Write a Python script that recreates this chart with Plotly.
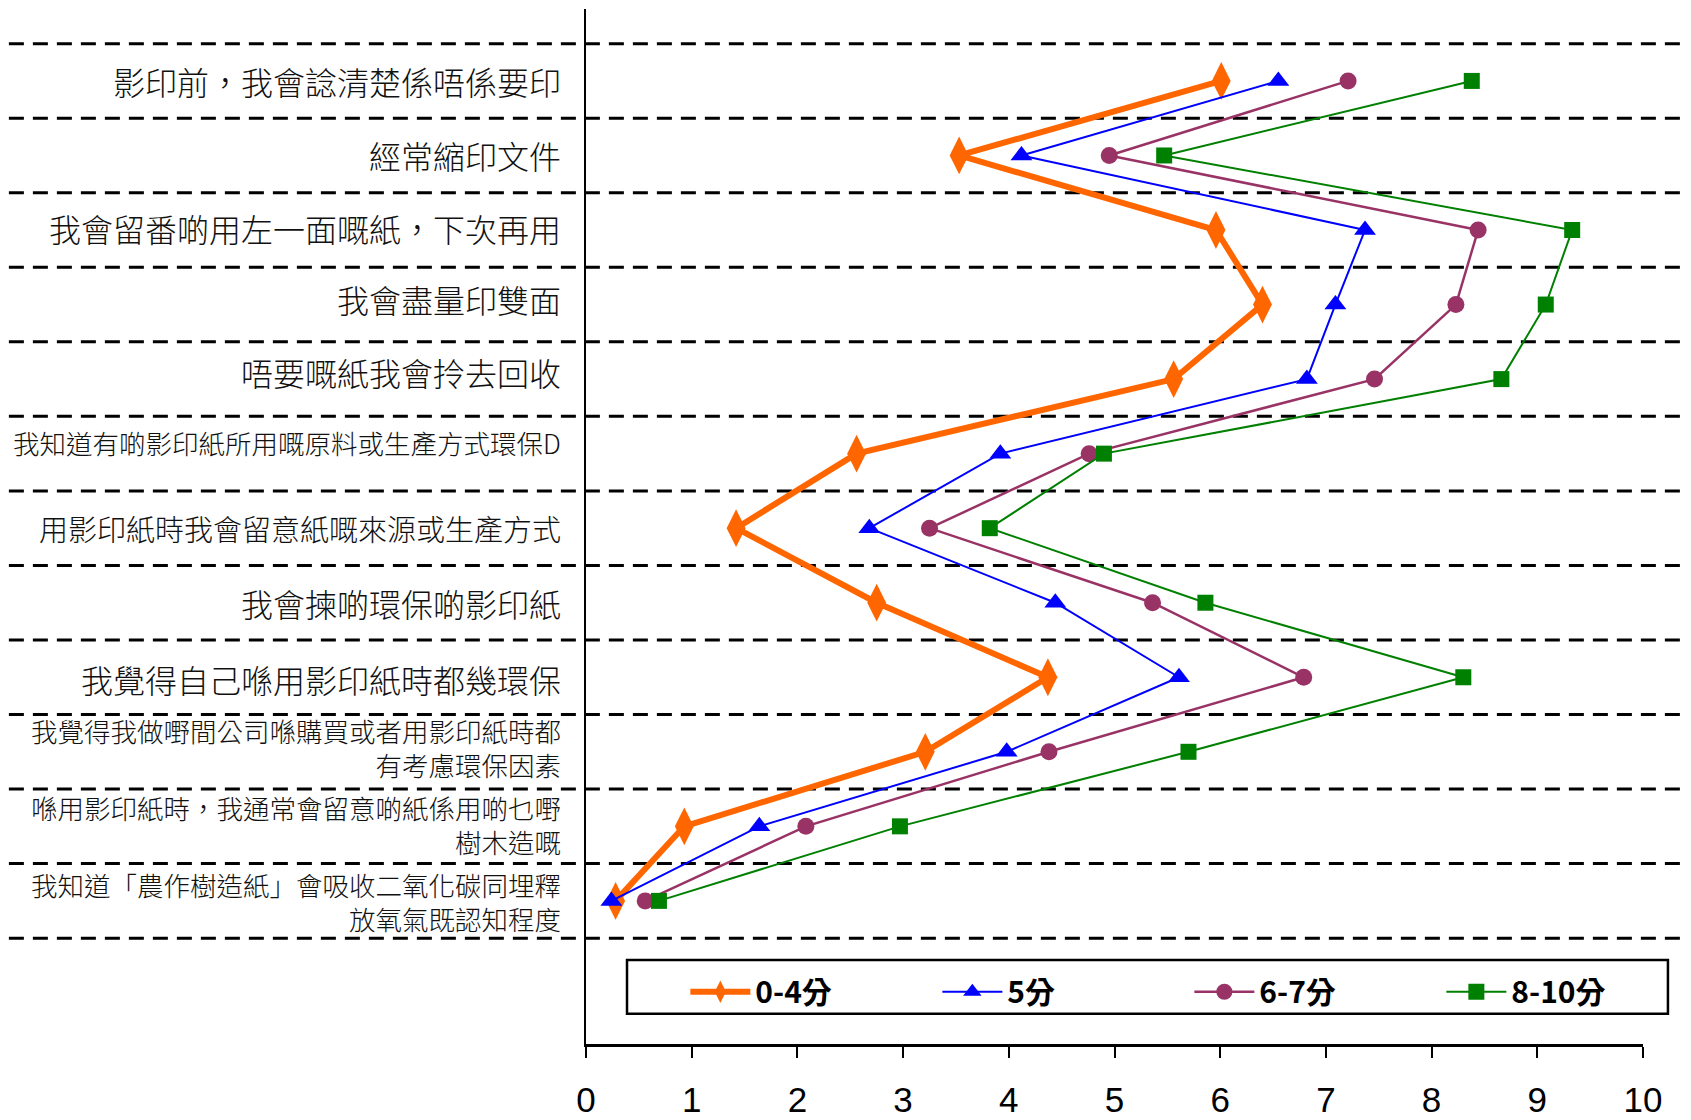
import plotly.graph_objects as go

categories = [
    "影印前，我會諗清楚係唔係要印",
    "經常縮印文件",
    "我會留番啲用左一面嘅紙，下次再用",
    "我會盡量印雙面",
    "唔要嘅紙我會拎去回收",
    "我知道有啲影印紙所用嘅原料或生產方式環保D",
    "用影印紙時我會留意紙嘅來源或生產方式",
    "我會揀啲環保啲影印紙",
    "我覺得自己喺用影印紙時都幾環保",
    "我覺得我做嘢間公司喺購買或者用影印紙時都<br>有考慮環保因素",
    "喺用影印紙時，我通常會留意啲紙係用啲乜嘢<br>樹木造嘅",
    "我知道「農作樹造紙」會吸收二氧化碳同埋釋<br>放氧氣既認知程度",
]

series_names = ["0-4分", "5分", "6-7分", "8-10分"]
score_0_4 = [6.01, 3.53, 5.96, 6.40, 5.56, 2.56, 1.42, 2.75, 4.37, 3.21, 0.93, 0.28]
score_5 = [6.55, 4.12, 7.37, 7.09, 6.82, 3.92, 2.68, 4.44, 5.61, 3.98, 1.64, 0.24]
score_6_7 = [7.21, 4.95, 8.44, 8.23, 7.46, 4.76, 3.25, 5.36, 6.79, 4.38, 2.08, 0.56]
score_8_10 = [8.38, 5.47, 9.33, 9.08, 8.66, 4.90, 3.82, 5.86, 8.30, 5.70, 2.97, 0.69]
x_ticks = [0, 1, 2, 3, 4, 5, 6, 7, 8, 9, 10]

# styles
label_font_sizes = [32, 32, 32, 32, 32, 26.5, 29, 32, 32, 26.5, 26.5, 26.5]
label_yshifts = [0, 0, 2, 6, 7, 11, 0, 0, -2, 4, 2, -1]
styles = [
    dict(color="#FF6600", width=6, symbol="diamond-tall", size=27),
    dict(color="#0000FF", width=2, symbol="triangle-up", size=19),
    dict(color="#993366", width=2.5, symbol="circle", size=17),
    dict(color="#008000", width=2, symbol="square", size=16),
]
all_series = [score_0_4, score_5, score_6_7, score_8_10]

fig = go.Figure()
for name, vals, st in zip(series_names, all_series, styles):
    fig.add_trace(go.Scatter(
        x=vals, y=categories, name=name, mode="lines+markers",
        line=dict(color=st["color"], width=st["width"]),
        marker=dict(symbol=st["symbol"], size=st["size"], color=st["color"],
                    line=dict(width=0)),
        cliponaxis=False,
    ))

shapes = []
n = len(categories)
for i in range(n + 1):
    shapes.append(dict(type="line", xref="paper", yref="y",
                       x0=-0.546, x1=1.06, y0=i - 0.5, y1=i - 0.5,
                       line=dict(color="black", width=3, dash="15px,9px"),
                       layer="below"))
# legend box
shapes.append(dict(type="rect", xref="paper", yref="paper",
                   x0=0.0388, x1=1.0236, y0=0.0292, y1=0.0811,
                   line=dict(color="black", width=2.5), fillcolor="white",
                   layer="below"))

annotations = []
for cat, fs, ys in zip(categories, label_font_sizes, label_yshifts):
    annotations.append(dict(
        xref="paper", yref="y", x=0, y=cat, xanchor="right", yanchor="middle",
        xshift=-23, yshift=ys, text=cat, showarrow=False, align="right",
        font=dict(family="Noto Sans CJK TC", size=fs, color="#111111", weight=300),
    ))

# page body has an 8px default margin, so the figure is 8px smaller each way
fig.update_layout(
    width=1683, height=1112,
    margin=dict(l=578, r=48, t=1, b=76, autoexpand=False),
    paper_bgcolor="white", plot_bgcolor="white",
    showlegend=True,
    legend=dict(orientation="h", x=0.094, y=0.0756, xanchor="left", yanchor="top",
                bgcolor="rgba(0,0,0,0)", borderwidth=0,
                itemwidth=60,
                entrywidth=177, entrywidthmode="pixels",
                font=dict(family="Liberation Sans Narrow, Noto Sans CJK TC", size=30,
                          color="black", weight="bold")),
    shapes=shapes,
    annotations=annotations,
    xaxis=dict(range=[0, 10], tickvals=x_ticks, ticktext=[str(t) for t in x_ticks],
               automargin=False,
               showgrid=False, zeroline=False, showline=True, linecolor="black",
               linewidth=2.5, ticks="outside", ticklen=11, tickwidth=2,
               tickcolor="black", ticklabelstandoff=12,
               tickfont=dict(family="Liberation Sans Narrow, Liberation Sans", size=35,
                             color="black")),
    yaxis=dict(type="category", categoryorder="array", categoryarray=categories,
               automargin=False,
               range=[12.92, -0.965], showticklabels=False, showgrid=False,
               zeroline=False, showline=True, linecolor="black", linewidth=2,
               ticks=""),
)

fig.write_html("out.html")
